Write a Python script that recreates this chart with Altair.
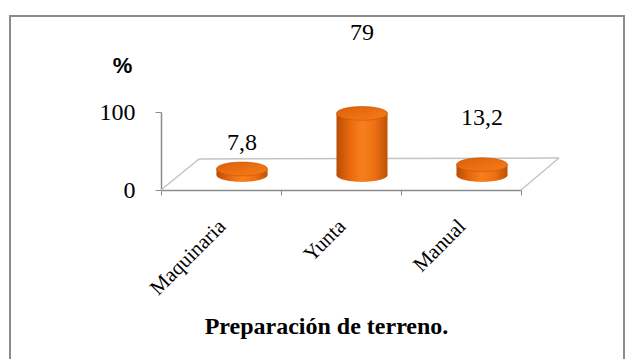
import altair as alt
import pandas as pd

# Preparación de terreno: share of farms (%) by method
categories = ["Maquinaria", "Yunta", "Manual"]
values = [7.8, 79, 13.2]
value_labels = ["7,8", "79", "13,2"]
y_ticks = [0, 100]

df = pd.DataFrame({"metodo": categories, "pct": values, "etiqueta": value_labels})

# Plot geometry (front plane of the pseudo-3D floor) and depth offsets
PLOT_W, PLOT_H = 360, 78
DEPTH_X, DEPTH_Y = 38, 31
CYL_W = 51
CYL_DX, CYL_DY = 21, -15

SERIF = "Liberation Serif"
AXIS_GREY = "#8C8C8C"
FLOOR_GREY = "#C4C4C4"

body_fill = alt.LinearGradient(
    gradient="linear", x1=0, x2=1, y1=0, y2=0,
    stops=[
        alt.GradientStop(color="#B84C04", offset=0),
        alt.GradientStop(color="#E8670C", offset=0.25),
        alt.GradientStop(color="#F7801E", offset=0.5),
        alt.GradientStop(color="#EE7012", offset=0.75),
        alt.GradientStop(color="#BF5206", offset=1),
    ],
)
top_fill = alt.LinearGradient(
    gradient="linear", x1=0, x2=1, y1=0, y2=1,
    stops=[
        alt.GradientStop(color="#DA600A", offset=0),
        alt.GradientStop(color="#EE7112", offset=0.6),
        alt.GradientStop(color="#F47C1C", offset=1),
    ],
)
ellipse = "M -1 0 A 1 0.27 0 1 0 1 0 A 1 0.27 0 1 0 -1 0 Z"

x_enc = alt.X(
    "metodo:N", sort=categories,
    scale=alt.Scale(paddingInner=0, paddingOuter=0),
    axis=alt.Axis(
        title="Preparación de terreno.",
        titleFont=SERIF, titleFontSize=24, titleFontWeight="bold", titleColor="black",
        titleX=165, titleY=143, titleBaseline="alphabetic", titleAlign="center",
        labelFont=SERIF, labelFontSize=21, labelColor="black",
        labelAngle=-45, labelAlign="right", labelBaseline="middle",
        labelPadding=28, labelOffset=1,
        tickBand="extent", tickSize=5, tickColor=AXIS_GREY,
        domainColor=AXIS_GREY, domainWidth=1.5, grid=False,
    ),
)
y_scale = alt.Scale(domain=[0, 100])
y_axis = alt.Axis(
    values=y_ticks, title="%", titleAngle=0,
    titleFont="Liberation Sans", titleFontSize=22, titleFontWeight="bold", titleColor="black",
    titleX=-39, titleY=-47, titleAlign="center", titleBaseline="middle",
    labelFont=SERIF, labelFontSize=24, labelColor="black", labelPadding=20,
    tickSize=6, tickColor=AXIS_GREY, domainColor=AXIS_GREY, domainWidth=1.5, grid=False,
)

base = alt.Chart(df)

# outer frame of the figure (outline only, so the axes behind stay visible)
frame = alt.Chart(alt.Data(values=[{}])).mark_rect(
    filled=False, stroke=AXIS_GREY, strokeWidth=2
).encode(
    x=alt.value(-151), x2=alt.value(463), y=alt.value(-96), y2=alt.value(262)
)

# floor of the 3D plot: back edge and the two side edges
floor_back = alt.Chart(alt.Data(values=[{}])).mark_rule(color=FLOOR_GREY, strokeWidth=1.5).encode(
    x=alt.value(DEPTH_X), x2=alt.value(PLOT_W + DEPTH_X),
    y=alt.value(PLOT_H - DEPTH_Y), y2=alt.value(PLOT_H - DEPTH_Y - 1),
)
floor_left = alt.Chart(alt.Data(values=[{}])).mark_rule(color=FLOOR_GREY, strokeWidth=1.5).encode(
    x=alt.value(0), x2=alt.value(DEPTH_X),
    y=alt.value(PLOT_H), y2=alt.value(PLOT_H - DEPTH_Y),
)
floor_right = alt.Chart(alt.Data(values=[{}])).mark_rule(color=FLOOR_GREY, strokeWidth=1.5).encode(
    x=alt.value(PLOT_W), x2=alt.value(PLOT_W + DEPTH_X),
    y=alt.value(PLOT_H), y2=alt.value(PLOT_H - DEPTH_Y - 1),
)

# cylinders: bottom cap, body, top cap
cyl_bottom = base.mark_point(
    shape=ellipse, size=CYL_W * CYL_W, filled=True, fill=body_fill, opacity=1,
    strokeWidth=0, xOffset=CYL_DX, yOffset=CYL_DY,
).encode(x=x_enc, y=alt.datum(0, scale=y_scale, axis=y_axis))

cyl_body = base.mark_bar(
    size=CYL_W, fill=body_fill, xOffset=CYL_DX, x2Offset=CYL_DX,
    yOffset=CYL_DY, y2Offset=CYL_DY,
).encode(
    x=x_enc,
    y=alt.Y("pct:Q", scale=y_scale, axis=y_axis),
    y2=alt.datum(0),
)

cyl_top = base.mark_point(
    shape=ellipse, size=CYL_W * CYL_W, filled=True, fill=top_fill, opacity=1,
    stroke="#C85606", strokeWidth=0.6, xOffset=CYL_DX, yOffset=CYL_DY,
).encode(x=x_enc, y=alt.Y("pct:Q", scale=y_scale, axis=y_axis))

# value labels, placed on their own log scale above the cylinders
labels = base.mark_text(
    font=SERIF, fontSize=24, color="black", baseline="middle", xOffset=21,
).encode(
    x=x_enc,
    y=alt.Y("pct:Q", scale=alt.Scale(type="log", domain=[7.8, 79], range=[31, -79]), axis=None),
    text="etiqueta:N",
)

plot = alt.layer(
    frame, floor_back, floor_left, floor_right, cyl_bottom, cyl_body, cyl_top,
).resolve_scale(y="shared")

chart = alt.layer(plot, labels).resolve_scale(y="independent").properties(
    width=PLOT_W, height=PLOT_H,
    autosize=alt.AutoSizeParams(type="none"),
    padding={"left": 161, "top": 112, "right": 109, "bottom": 169},
    background="white",
).configure_view(stroke=None)

chart.save("out.html", embed_options={"renderer": "svg", "actions": False})
